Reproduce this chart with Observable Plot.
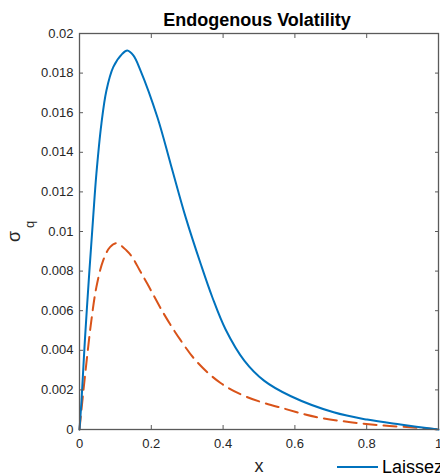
<!DOCTYPE html>
<html><head><meta charset="utf-8">
<script src="https://cdn.jsdelivr.net/npm/d3@7"></script>
<script src="https://cdn.jsdelivr.net/npm/@observablehq/plot@0.6"></script>
<style>
html,body{margin:0;padding:0;background:#fff;overflow:hidden;width:440px;height:474px;}
#chart{position:relative;width:440px;height:474px;}
#legend{position:absolute;left:337px;top:456px;height:22px;display:flex;align-items:center;white-space:nowrap;font-family:"Liberation Sans",Arial,sans-serif;font-size:18px;color:#000;}
#legend .sw{width:41px;height:0;border-top:2px solid #0072BD;margin-right:4px;}
</style></head><body><div id="chart"></div>
<script>
const titleText = "Endogenous Volatility";
const xLabel = "x";
const yLabelMain = "σ";
const yLabelSub = "q";
const legendLabel = "Laissez-faire";

const xTicks = [0, 0.2, 0.4, 0.6, 0.8, 1];
const yTicks = [0, 0.002, 0.004, 0.006, 0.008, 0.01, 0.012, 0.014, 0.016, 0.018, 0.02];

// Laissez-faire (solid blue)
const xLaissez = [0, 0.0056, 0.015, 0.027, 0.038, 0.047, 0.061, 0.075, 0.094, 0.119, 0.133, 0.15, 0.17, 0.217, 0.254, 0.296, 0.3375, 0.37, 0.407, 0.459, 0.514, 0.589, 0.708, 0.801, 0.894, 1];
const yLaissez = [0, 0.00146, 0.0045, 0.00786, 0.0107, 0.01291, 0.01544, 0.01712, 0.0183, 0.01897, 0.01914, 0.01889, 0.01813, 0.01577, 0.0134, 0.0107, 0.00837, 0.00668, 0.00505, 0.00348, 0.00247, 0.00168, 0.00087, 0.0005, 0.00025, 0];

// Planner (dashed orange)
const xPlanner = [0, 0.010, 0.021, 0.033, 0.047, 0.066, 0.085, 0.103, 0.131, 0.147, 0.168, 0.189, 0.235, 0.282, 0.328, 0.393, 0.468, 0.575, 0.662, 0.755, 0.848, 0.941, 1];
const yPlanner = [0, 0.0018, 0.00365, 0.0055, 0.00719, 0.00854, 0.00921, 0.00941, 0.00904, 0.0087, 0.00803, 0.00736, 0.00584, 0.0045, 0.0034, 0.00235, 0.00163, 0.00103, 0.00062, 0.00037, 0.0002, 0.00009, 0];

const laissez = xLaissez.map((x, i) => ({x, y: yLaissez[i]}));
const planner = xPlanner.map((x, i) => ({x, y: yPlanner[i]}));

const font = '"Liberation Sans", Arial, Helvetica, sans-serif';
const axisColor = "#5a5a5a";
const fmtY = d => d === 0 ? "0" : String(+d.toFixed(3));
const fmtX = d => String(d);

const chart = Plot.plot({
  width: 440,
  height: 474,
  marginLeft: 79,
  marginRight: 2,
  marginTop: 33,
  marginBottom: 45,
  style: {fontFamily: font, fontSize: "13px", color: "#262626", background: "#fff"},
  x: {domain: [0, 1]},
  y: {domain: [0, 0.02]},
  marks: [
    Plot.line(planner, {x: "x", y: "y", stroke: "#D95319", strokeWidth: 2, strokeDasharray: "13,7", curve: "catmull-rom"}),
    Plot.line(laissez, {x: "x", y: "y", stroke: "#0072BD", strokeWidth: 2, curve: "catmull-rom"}),
    Plot.frame({stroke: axisColor, strokeWidth: 1.3}),
    Plot.axisX({anchor: "bottom", ticks: xTicks, tickSize: -4, tickPadding: 13, tickFormat: fmtX, label: null, stroke: axisColor, fill: "#262626"}),
    Plot.axisX({anchor: "top", ticks: xTicks, tickSize: -4, tickFormat: () => "", label: null, stroke: axisColor}),
    Plot.axisY({anchor: "left", ticks: yTicks, tickSize: -4, tickPadding: 10, tickFormat: fmtY, label: null, stroke: axisColor, fill: "#262626"}),
    Plot.axisY({anchor: "right", ticks: yTicks, tickSize: -4, tickFormat: () => "", label: null, stroke: axisColor}),
    Plot.text([titleText], {frameAnchor: "top", dy: -13, dx: -2, text: d => d, fontSize: 18, fontWeight: "bold", fill: "#000", lineAnchor: "middle"}),
    Plot.text([xLabel], {frameAnchor: "bottom", dy: 37, text: d => d, fontSize: 18, fill: "#262626", lineAnchor: "middle"}),
    Plot.text([yLabelMain], {frameAnchor: "left", dx: -65.5, dy: 5, text: d => d, fontSize: 18, rotate: -90, fill: "#262626", lineAnchor: "middle", textAnchor: "middle"}),
    Plot.text([yLabelSub], {frameAnchor: "left", dx: -50, dy: -7, text: d => d, fontSize: 13, rotate: -90, fill: "#262626", lineAnchor: "middle", textAnchor: "middle"})
  ]
});
document.getElementById("chart").appendChild(chart);

const legend = document.createElement("div");
legend.id = "legend";
legend.innerHTML = '<span class="sw"></span><span></span>';
legend.lastChild.textContent = legendLabel;
document.getElementById("chart").appendChild(legend);
</script>
</body></html>
